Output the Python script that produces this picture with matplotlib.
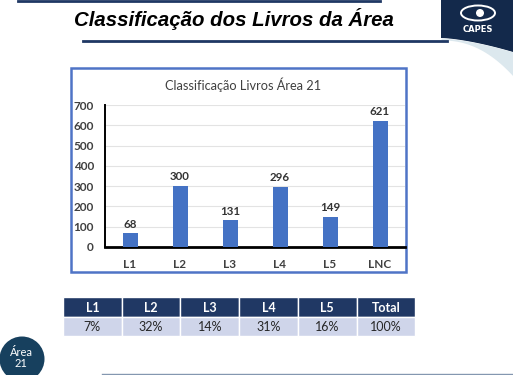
import matplotlib
matplotlib.use("Agg")
import matplotlib.pyplot as plt
import matplotlib.patches as patches
import numpy as np

categories = ["L1", "L2", "L3", "L4", "L5", "LNC"]
counts = [68, 300, 131, 296, 149, 621]
table_header = ["L1", "L2", "L3", "L4", "L5", "Total"]
table_values = ["7%", "32%", "14%", "31%", "16%", "100%"]

W, H = 513, 375
fig = plt.figure(figsize=(W / 100, H / 100), dpi=100)
fig.patch.set_facecolor("white")

navy = "#1F3864"
bar_blue = "#4472C4"


def fx(x):
    return x / W


def fy(y):
    return 1 - y / H


# overlay axes in pixel coordinates for slide decorations
deco = fig.add_axes([0, 0, 1, 1])
deco.set_xlim(0, W)
deco.set_ylim(H, 0)
deco.axis("off")

# top line and underline
deco.plot([18, 380], [1, 1], color=navy, lw=2)
deco.plot([83, 447], [40.5, 40.5], color=navy, lw=2)
deco.text(234, 19, "Classificação dos Livros da Área", ha="center", va="center",
          fontsize=14.7, fontweight="bold", fontstyle="italic",
          family="Liberation Sans", color="black")

# CAPES logo block
t = np.linspace(0, 1, 40)
curve_x = 441 + 72 * t
curve_y = 38 + 14 * t ** 1.5
poly = np.vstack([[441, 0], [513, 0], [513, 52]] + list(zip(curve_x[::-1], curve_y[::-1])))
deco.add_patch(patches.Polygon(poly, closed=True, fc="#13294B", ec="none"))
swoosh_x = 441 + 72 * t
swoosh_top = 38 + 14 * t ** 1.5
swoosh_bot = 40 + 36 * t ** 2.2
deco.fill_between(swoosh_x, swoosh_top, swoosh_bot, color="#DCE8EE", lw=0)
deco.add_patch(patches.Ellipse((478, 13), 34, 15, fc="none", ec="white", lw=1.4))
deco.add_patch(patches.Circle((480, 13), 4, fc="white", ec="none"))
deco.text(478, 29, "CAPES", ha="center", va="center", fontsize=6,
          fontweight="bold", color="white", family="DejaVu Sans")

# chart frame
deco.add_patch(patches.Rectangle((71, 68), 334.5, 204, fc="white",
                                 ec="#4F74C6", lw=1.8))
deco.text(243, 85, "Classificação Livros Área 21", ha="center", va="center",
          fontsize=9.2, color="#404040", family="Lato")

# bottom decorations
deco.add_patch(patches.Circle((22, 359), 22.5, fc="#17405E", ec="none", clip_on=True))
deco.text(21, 358, "Área\n21", ha="center", va="center", fontsize=8,
          color="white", family="Lato", linespacing=1.05)
deco.plot([102, 513], [373.5, 373.5], color="#8497B0", lw=1)

# bar chart
ax = fig.add_axes([fx(105), fy(247), fx(300), (247 - 105) / H])
x = np.arange(len(categories))
ax.bar(x, counts, width=0.3, color=bar_blue, zorder=3)
for xi, v in zip(x, counts):
    ax.text(xi, v + 18, str(v), ha="center", va="bottom", fontsize=8.3,
            fontweight="bold", color="#333333", family="Lato")
ax.set_xlim(-0.5, 5.5)
ax.set_ylim(0, 700)
ax.set_yticks(range(0, 701, 100))
ax.set_xticks(x)
ax.set_xticklabels(categories)
ax.grid(axis="y", color="#E3E3E3", lw=0.8, zorder=0)
for side in ["top", "right"]:
    ax.spines[side].set_visible(False)
ax.spines["left"].set_linewidth(1.4)
ax.spines["bottom"].set_linewidth(2)
ax.tick_params(length=0, pad=8, labelsize=8.5, colors="#404040")
for lab in ax.get_xticklabels() + ax.get_yticklabels():
    lab.set_fontweight("bold")
    lab.set_family("Lato")
ax.tick_params(axis="x", pad=9)
ax.set_facecolor("none")

# table
col_w = 58.7
x0 = 63
for i, (h, v) in enumerate(zip(table_header, table_values)):
    cx = x0 + i * col_w
    deco.add_patch(patches.Rectangle((cx, 297), col_w, 20, fc="#203864",
                                     ec="white", lw=1))
    deco.add_patch(patches.Rectangle((cx, 317), col_w, 19, fc="#CFD5EA",
                                     ec="white", lw=1))
    deco.text(cx + col_w / 2, 307.5, h, ha="center", va="center", fontsize=9,
              fontweight="bold", color="white", family="Lato")
    deco.text(cx + col_w / 2, 327, v, ha="center", va="center", fontsize=9,
              color="#262626", family="Lato")

fig.savefig("out.png", dpi=100)
